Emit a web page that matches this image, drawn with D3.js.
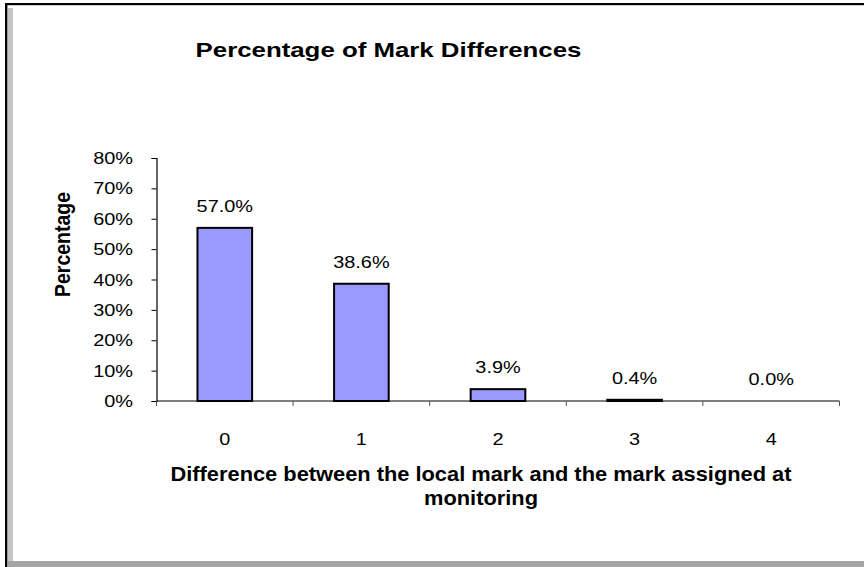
<!DOCTYPE html>
<html>
<head>
<meta charset="utf-8">
<script src="https://cdn.jsdelivr.net/npm/d3@7"></script>
<style>
  body { margin: 0; background: #fff; }
  svg { display: block; font-family: "Liberation Sans", Arial, sans-serif; }
</style>
</head>
<body>
<div id="chart"></div>
<script>
// values
const categories = ["0", "1", "2", "3", "4"];
const percentages = [57.0, 38.6, 3.9, 0.4, 0.0];
const yTicks = [0, 10, 20, 30, 40, 50, 60, 70, 80];

const chartTitle = "Percentage of Mark Differences";
const xTitleLines = ["Difference between the local mark and the mark assigned at", "monitoring"];
const yTitle = "Percentage";

class MarkChart {

  constructor(element) {
    this.element = element;
    this.width = 864;
    this.height = 567;
    // plot area in page pixels
    this.plot = {left: 156.5, right: 839.5, top: 158, bottom: 401};
    // the original image is a little wider than tall, text is stretched too
    this.sx = 1.17;
    this.draw();
  }

  draw() {
    this.svg = d3.select(this.element)
      .append("svg")
      .attr("width", this.width)
      .attr("height", this.height);

    this._drawFrame();
    this._createScales();
    this._drawAxes();
    this._drawBars();
    this._drawTitles();
  }

  _text(g, x, y, str, size, opts = {}) {
    const rot = opts.rotate ? ` rotate(${opts.rotate})` : "";
    return g.append("text")
      .attr("transform", `translate(${x},${y}) scale(${opts.sx || this.sx},1)${rot}`)
      .attr("font-size", size)
      .attr("font-weight", opts.bold ? "bold" : null)
      .attr("text-anchor", opts.anchor || "middle")
      .attr("fill", "#000")
      .text(str);
  }

  _drawFrame() {
    const f = this.svg.append("g");
    f.append("rect").attr("x", 8).attr("y", 8).attr("width", 5).attr("height", 553).attr("fill", "#c6c6c6");
    f.append("rect").attr("x", 8).attr("y", 561).attr("width", 856).attr("height", 6).attr("fill", "#a4a4a4");
    f.append("rect").attr("x", 5).attr("y", 3).attr("width", 859).attr("height", 2.2).attr("fill", "#000");
    f.append("rect").attr("x", 5).attr("y", 3).attr("width", 2.4).attr("height", 564).attr("fill", "#000");
  }

  _createScales() {
    const p = this.plot;
    this.x = d3.scaleBand()
      .domain(categories)
      .range([p.left, p.right])
      .paddingInner(0.6)
      .paddingOuter(0.3);

    this.y = d3.scaleLinear()
      .domain([0, 80])
      .range([p.bottom, p.top]);
  }

  _drawAxes() {
    const p = this.plot;
    const step = this.x.step();

    const yAxis = this.svg.append("g")
      .attr("transform", `translate(${p.left},0)`)
      .call(d3.axisLeft(this.y).tickValues(yTicks).tickSize(5).tickFormat(""));
    yAxis.select(".domain").attr("stroke", "#000").attr("stroke-width", 1.2);
    yAxis.selectAll(".tick line").attr("stroke", "#000");

    const yl = this.svg.append("g");
    yTicks.forEach(t => {
      this._text(yl, 133, this.y(t) + 6, t + "%", 17, {anchor: "end"});
    });

    // category axis with ticks between the groups
    const edges = d3.range(categories.length + 1).map(i => p.left + i * step);
    const xAxis = this.svg.append("g");
    xAxis.append("line")
      .attr("x1", p.left).attr("x2", p.right)
      .attr("y1", p.bottom).attr("y2", p.bottom)
      .attr("stroke", "#000").attr("stroke-width", 1.2);
    xAxis.selectAll(".edge")
      .data(edges)
      .join("line")
        .attr("class", "edge")
        .attr("x1", d => d).attr("x2", d => d)
        .attr("y1", p.bottom).attr("y2", p.bottom + 5)
        .attr("stroke", "#555");

    categories.forEach(c => {
      this._text(xAxis, this.x(c) + this.x.bandwidth() / 2, 445, c, 17);
    });
  }

  _drawBars() {
    const data = categories.map((c, i) => ({cat: c, value: percentages[i]}));
    const bw = this.x.bandwidth();

    this.svg.append("g")
      .selectAll("rect")
      .data(data.filter(d => d.value > 0))
      .join("rect")
        .attr("x", d => this.x(d.cat))
        .attr("y", d => this.y(d.value))
        .attr("width", bw)
        .attr("height", d => this.y(0) - this.y(d.value))
        .attr("fill", "#9999ff")
        .attr("stroke", "#000")
        .attr("stroke-width", 2);

    const labels = this.svg.append("g");
    data.forEach(d => {
      this._text(labels, this.x(d.cat) + bw / 2, this.y(d.value) - 16, d.value.toFixed(1) + "%", 17);
    });
  }

  _drawTitles() {
    const g = this.svg.append("g");
    this._text(g, 388.5, 57, chartTitle, 21, {bold: true, sx: 1.23});
    this._text(g, 481, 481, xTitleLines[0], 19.5, {bold: true, sx: 1.12});
    this._text(g, 481, 505, xTitleLines[1], 19.5, {bold: true, sx: 1.12});
    this._text(g, 70, 244.5, yTitle, 19.5, {bold: true, sx: 1.1, rotate: -90});
  }
}

new MarkChart("#chart");
</script>
</body>
</html>
